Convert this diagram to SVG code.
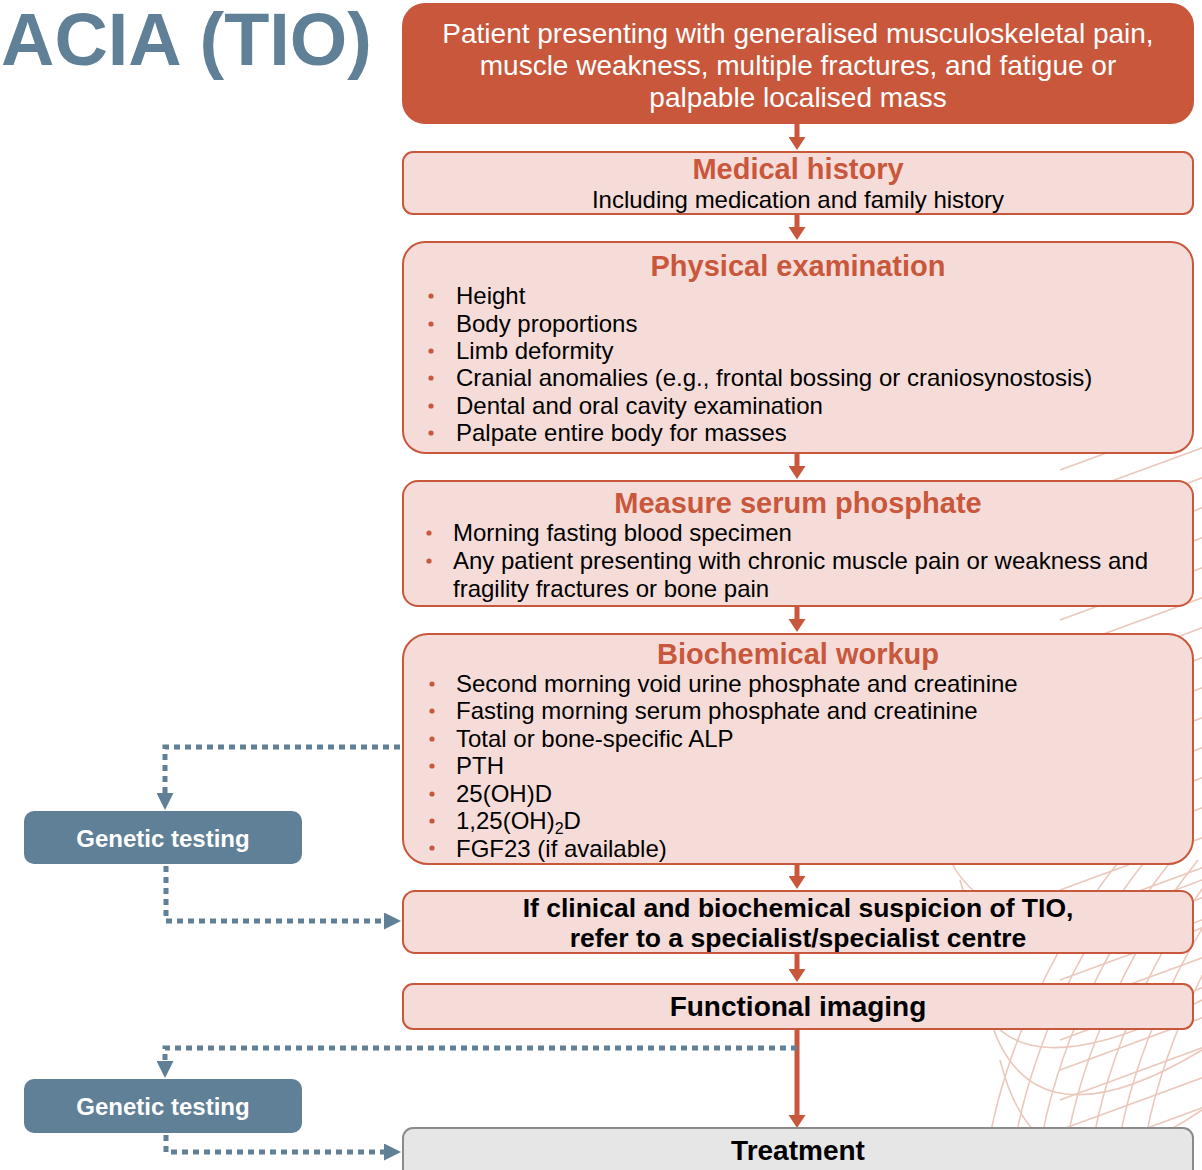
<svg xmlns="http://www.w3.org/2000/svg" width="1202" height="1170" viewBox="0 0 1202 1170">
<style>
text{font-family:"Liberation Sans",Arial,sans-serif}
.box{fill:#f5dcd8;stroke:#c8573b;stroke-width:2}
.hd{font-weight:bold;fill:#c8573b;font-size:29px;text-anchor:middle}
.bl{font-size:24px;fill:#000}
.ctr{text-anchor:middle}
.bk{font-weight:bold;fill:#000}
.dot{fill:#c8573b}
.gen{fill:#5f8096}
.gt{font-weight:bold;fill:#fff;font-size:24px;text-anchor:middle}
.oa{stroke:#c8573b;stroke-width:5;fill:none;marker-end:url(#ah)}
.ba{stroke:#5f8096;stroke-width:5;fill:none;stroke-dasharray:6 5;marker-end:url(#bh)}
.pat{fill:none;stroke:#ebc8bc;stroke-width:1.6}
</style>
<defs>
<marker id="ah" markerUnits="userSpaceOnUse" markerWidth="13" markerHeight="17" refX="0" refY="8.5" orient="auto" viewBox="0 0 13 17"><path d="M0,0 L13,8.5 L0,17 Z" fill="#c8573b"/></marker>
<marker id="bh" markerUnits="userSpaceOnUse" markerWidth="17" markerHeight="17" refX="0" refY="8.5" orient="auto" viewBox="0 0 17 17"><path d="M0,0 L17,8.5 L0,17 Z" fill="#5f8096"/></marker>
<clipPath id="clipR"><rect x="930" y="440" width="272" height="730"/></clipPath>
</defs>
<rect width="1202" height="1170" fill="#fff"/>
<g id="bg-pattern" class="pat" clip-path="url(#clipR)">
<path d="M1060 470 L1210 415"/><path d="M1060 500 L1210 445"/><path d="M1060 530 L1210 475"/><path d="M1060 560 L1210 505"/><path d="M1060 590 L1210 535"/><path d="M1060 620 L1210 565"/><path d="M1060 650 L1210 595"/><path d="M1060 680 L1210 625"/><path d="M1060 710 L1210 655"/><path d="M1060 740 L1210 685"/><path d="M1060 770 L1210 715"/><path d="M1060 800 L1210 745"/><path d="M1060 830 L1210 775"/><path d="M1060 860 L1210 805"/><path d="M1060 890 L1210 835"/><path d="M1060 920 L1210 865"/><path d="M1060 950 L1210 895"/><path d="M1060 980 L1210 925"/><path d="M1060 1010 L1210 955"/><path d="M1060 1040 L1210 985"/><path d="M1060 1070 L1210 1015"/><path d="M1060 1100 L1210 1045"/><path d="M1060 1130 L1210 1075"/><path d="M1060 1160 L1210 1105"/>
<path d="M985 1170 C995 1080 1040 960 1120 860"/><path d="M1011 1170 C1021 1080 1066 960 1146 860"/><path d="M1037 1170 C1047 1080 1092 960 1172 860"/><path d="M1063 1170 C1073 1080 1118 960 1198 860"/><path d="M1089 1170 C1099 1080 1144 960 1224 860"/><path d="M1115 1170 C1125 1080 1170 960 1250 860"/><path d="M1141 1170 C1151 1080 1196 960 1276 860"/>
<path d="M975 990 Q1010 1100 1202 1000"/><path d="M985 1000 Q1020 1160 1202 1050"/><path d="M960 880 Q990 1000 1202 920"/><path d="M950 860 Q1000 960 1202 880"/><path d="M1000 1060 Q1040 1220 1202 1110"/>
</g>
<g id="title"><text x="1" y="65" font-size="74" font-weight="bold" fill="#5f8096" textLength="371" lengthAdjust="spacingAndGlyphs">ACIA (TIO)</text></g>
<g id="connectors">
<path class="oa" d="M797 123 V137"/>
<path class="oa" d="M797 214 V227"/>
<path class="oa" d="M797 453 V466"/>
<path class="oa" d="M797 606 V619"/>
<path class="oa" d="M797 864 V876"/>
<path class="oa" d="M797 953 V969"/>
<path class="oa" d="M797 1029 V1115"/>
<path class="ba" d="M400 747 H165 V793"/>
<path class="ba" d="M166 866 V921 H384"/>
<path class="ba" d="M797 1048 H165 V1061"/>
<path class="ba" d="M166 1135 V1152 H384"/>
</g>
<g id="n-presenting">
<rect x="403" y="4" width="790" height="119" rx="22" fill="#c8573b" stroke="#c8573b" stroke-width="2"/>
<text x="798" y="43" font-size="28" fill="#fff" class="ctr">Patient presenting with generalised musculoskeletal pain,</text>
<text x="798" y="75" font-size="28" fill="#fff" class="ctr">muscle weakness, multiple fractures, and fatigue or</text>
<text x="798" y="107" font-size="28" fill="#fff" class="ctr">palpable localised mass</text>
</g>
<g id="n-history">
<rect class="box" x="403" y="152" width="790" height="62" rx="10"/>
<text class="hd" x="798" y="179">Medical history</text>
<text class="bl ctr" x="798" y="208">Including medication and family history</text>
</g>
<g id="n-physical">
<rect class="box" x="403" y="242" width="790" height="211" rx="22"/>
<text class="hd" x="798" y="276">Physical examination</text>
<circle class="dot" cx="431" cy="296" r="2.6"/><text class="bl" x="456" y="304">Height</text>
<circle class="dot" cx="431" cy="324" r="2.6"/><text class="bl" x="456" y="332">Body proportions</text>
<circle class="dot" cx="431" cy="351" r="2.6"/><text class="bl" x="456" y="359">Limb deformity</text>
<circle class="dot" cx="431" cy="378" r="2.6"/><text class="bl" x="456" y="386">Cranial anomalies (e.g., frontal bossing or craniosynostosis)</text>
<circle class="dot" cx="431" cy="406" r="2.6"/><text class="bl" x="456" y="414">Dental and oral cavity examination</text>
<circle class="dot" cx="431" cy="433" r="2.6"/><text class="bl" x="456" y="441">Palpate entire body for masses</text>
</g>
<g id="n-phosphate">
<rect class="box" x="403" y="481" width="790" height="125" rx="15"/>
<text class="hd" x="798" y="513">Measure serum phosphate</text>
<circle class="dot" cx="429" cy="533" r="2.6"/><text class="bl" x="453" y="541">Morning fasting blood specimen</text>
<circle class="dot" cx="429" cy="561" r="2.6"/><text class="bl" x="453" y="569">Any patient presenting with chronic muscle pain or weakness and</text>
<text class="bl" x="453" y="597">fragility fractures or bone pain</text>
</g>
<g id="n-biochem">
<rect class="box" x="403" y="634" width="790" height="230" rx="25"/>
<text class="hd" x="798" y="664">Biochemical workup</text>
<circle class="dot" cx="432" cy="684" r="2.6"/><text class="bl" x="456" y="692">Second morning void urine phosphate and creatinine</text>
<circle class="dot" cx="432" cy="711" r="2.6"/><text class="bl" x="456" y="719">Fasting morning serum phosphate and creatinine</text>
<circle class="dot" cx="432" cy="739" r="2.6"/><text class="bl" x="456" y="747">Total or bone-specific ALP</text>
<circle class="dot" cx="432" cy="766" r="2.6"/><text class="bl" x="456" y="774">PTH</text>
<circle class="dot" cx="432" cy="794" r="2.6"/><text class="bl" x="456" y="802">25(OH)D</text>
<circle class="dot" cx="432" cy="821" r="2.6"/><text class="bl" x="456" y="829">1,25(OH)<tspan font-size="16" dy="5">2</tspan><tspan dy="-5">D</tspan></text>
<circle class="dot" cx="432" cy="848" r="2.6"/><text class="bl" x="456" y="857">FGF23 (if available)</text>
</g>
<g id="n-refer">
<rect class="box" x="403" y="891" width="790" height="62" rx="12"/>
<text class="bk ctr" x="798" y="917" font-size="26.5">If clinical and biochemical suspicion of TIO,</text>
<text class="bk ctr" x="798" y="947" font-size="26.5">refer to a specialist/specialist centre</text>
</g>
<g id="n-imaging">
<rect class="box" x="403" y="984" width="790" height="45" rx="10"/>
<text class="bk ctr" x="798" y="1016" font-size="28">Functional imaging</text>
</g>
<g id="n-treatment">
<rect x="403" y="1128" width="790" height="60" rx="10" fill="#e6e6e6" stroke="#8a8a8a" stroke-width="2"/>
<text class="bk ctr" x="798" y="1160" font-size="28">Treatment</text>
</g>
<g id="n-genetic1">
<rect class="gen" x="24" y="811" width="278" height="53" rx="10"/>
<text class="gt" x="163" y="847">Genetic testing</text>
</g>
<g id="n-genetic2">
<rect class="gen" x="24" y="1079" width="278" height="54" rx="10"/>
<text class="gt" x="163" y="1115">Genetic testing</text>
</g>
</svg>
